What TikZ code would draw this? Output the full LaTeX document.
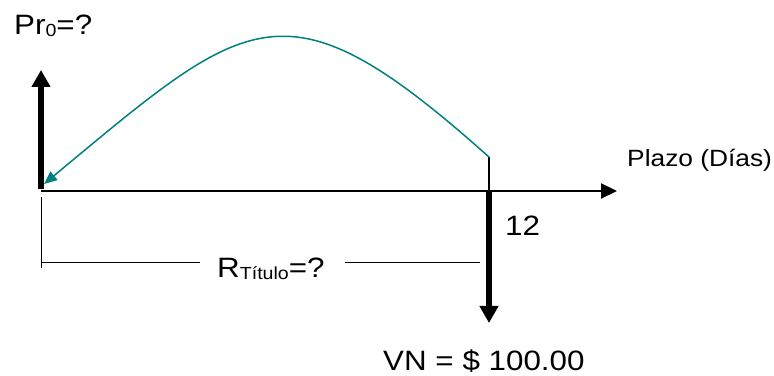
\documentclass[tikz,border=0pt]{standalone}
\usepackage{fontspec}
\setmainfont{Liberation Sans}
\usetikzlibrary{arrows.meta}
\definecolor{tealc}{RGB}{0,128,128}
\tikzset{
  big/.style={font=\fontsize{28}{32}\selectfont, inner sep=0pt, anchor=base west, xscale=1.12, transform shape},
  mid/.style={font=\fontsize{23.5}{27}\selectfont, inner sep=0pt, anchor=base west, xscale=1.12, transform shape},
  thickarrow/.style={line width=5.5pt, -{Triangle[width=18pt,length=17pt]}},
  axisline/.style={line width=2.2pt, -{Triangle[width=15pt,length=16pt]}},
  thinline/.style={line width=1pt},
  flowcurve/.style={tealc, line width=1.5pt, -{Triangle[width=11pt,length=13pt]}},
}
\newcommand{\subtxt}[1]{\raisebox{-2pt}{\fontsize{17.5}{20}\selectfont #1}}
\begin{document}
\begin{tikzpicture}[x=1pt,y=1pt]
\useasboundingbox (0,0) rectangle (774,375);
% coordinates (y flipped: y' = 375 - y)
\coordinate (o) at (41,184);
\coordinate (axend) at (617,184);
\coordinate (uptop) at (41,305);
\coordinate (upbot) at (41,186);
\coordinate (m) at (489,184);
\coordinate (mdown) at (489,52);
\coordinate (mtop) at (489,218);
\coordinate (dimL) at (41,112);
\coordinate (dimLtop) at (41,178);
\coordinate (dimLbot) at (41,107);
\coordinate (dimR) at (480,112);
\coordinate (curveend) at (44,191);
% axis
\draw[axisline] (o) -- (axend);
% up arrow
\draw[thickarrow] (upbot) -- (uptop);
% down arrow
\draw[thickarrow] (m) -- (mdown);
% thin vertical at 12
\draw[line width=1.5pt] (mtop) -- (m);
% curve
\draw[flowcurve] (mtop) .. controls (285,400) and (250,362) .. (curveend);
% dimension lines
\draw[thinline] (dimLtop) -- (dimLbot);
\node[big] (rt) at (217,97) {R\subtxt{Título}=?};
\coordinate (dimA) at (200,112);
\coordinate (dimB) at (345,112);
\draw[thinline] (dimL) -- (dimA);
\draw[thinline] (dimB) -- (dimR);
% labels
\node[big] (pr) at (14,340) {Pr\subtxt{0}=?};
\node[mid] (plazo) at (627,208) {Plazo (Días)};
\node[big] (twelve) at (505,139) {12};
\node[big] (vn) at (383,5) {VN = \$ 100.00};
\end{tikzpicture}
\end{document}
